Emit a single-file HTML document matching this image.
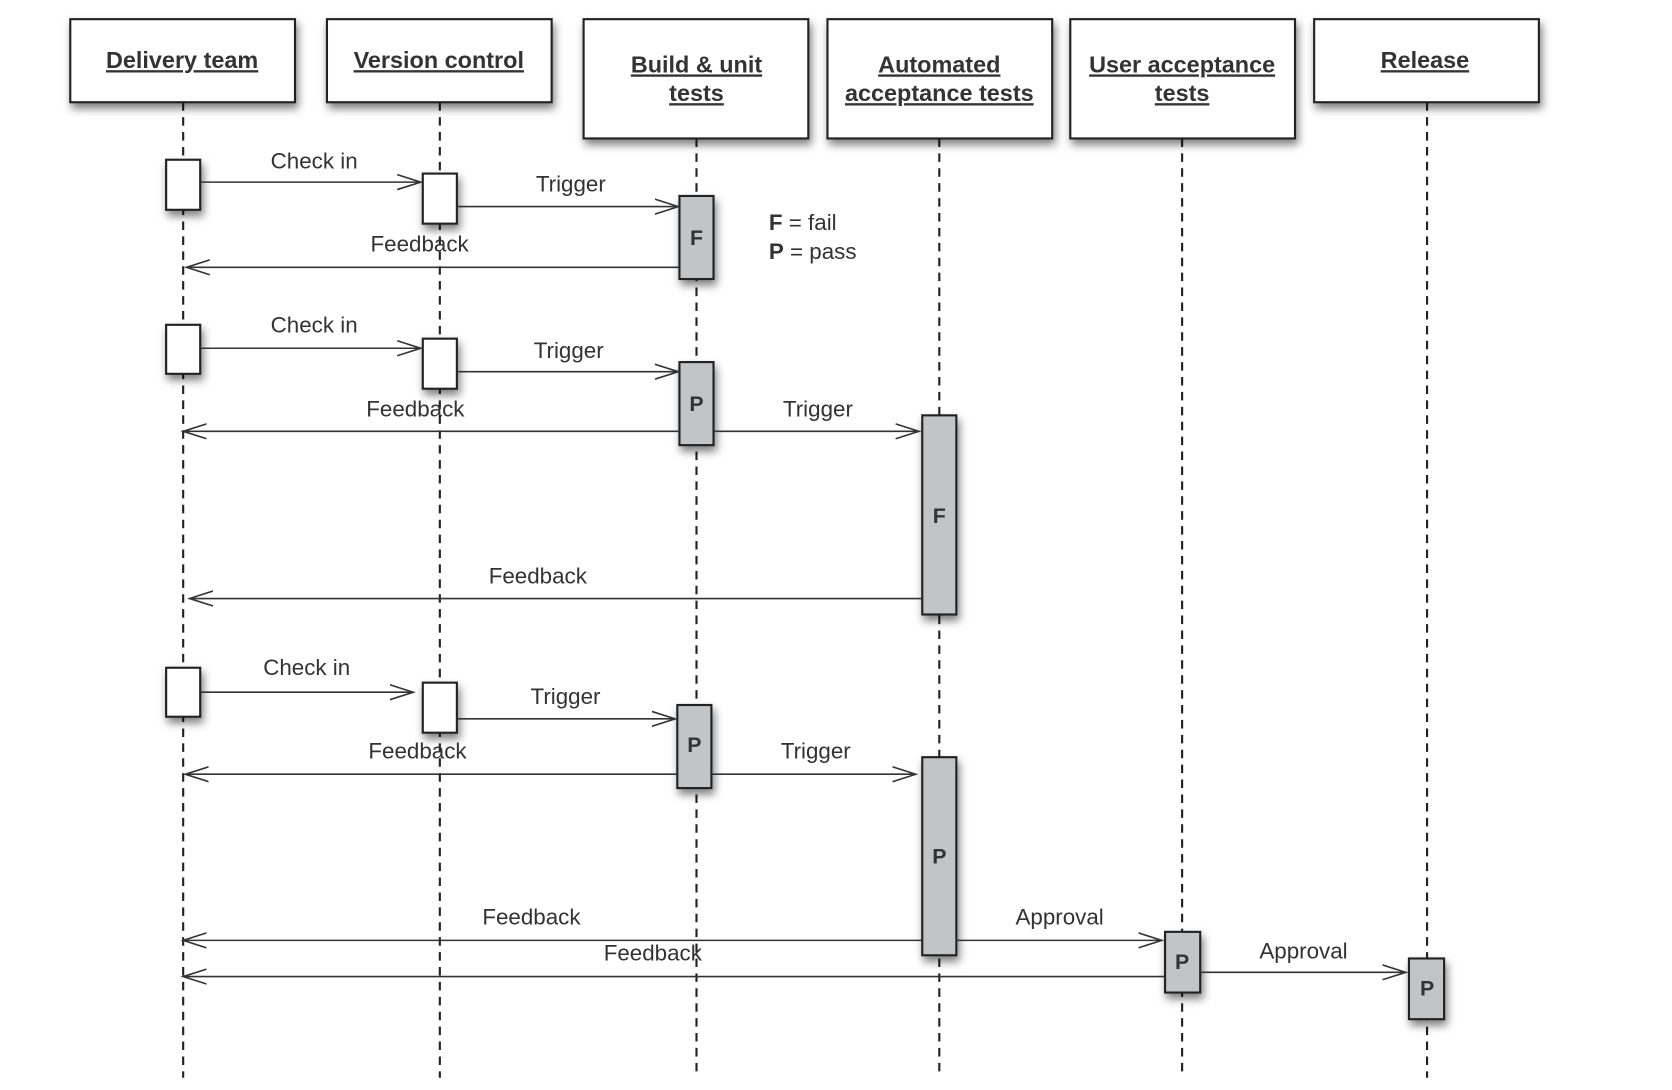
<!DOCTYPE html><html><head><style>body{margin:0;background:#fff}svg{display:block}text{font-family:"Liberation Sans",sans-serif}</style></head><body>
<svg width="1672" height="1090" viewBox="0 0 1570 1023.5">
<defs>
<filter id="sh" x="-30%" y="-30%" width="170%" height="170%"><feDropShadow dx="2" dy="5" stdDeviation="4" flood-color="#000" flood-opacity="0.5"/></filter>
<marker id="ar" markerWidth="24" markerHeight="16" refX="22" refY="8" orient="auto" markerUnits="userSpaceOnUse"><path d="M0,1 L22,8 L0,15" fill="none" stroke="#333" stroke-width="1.5"/></marker>
</defs>
<g stroke="#222" stroke-width="2" stroke-dasharray="8,6">
<line x1="172" y1="96" x2="172" y2="1012"/><line x1="413" y1="96" x2="413" y2="1012"/><line x1="654" y1="130" x2="654" y2="1012"/><line x1="882" y1="130" x2="882" y2="1012"/><line x1="1110" y1="130" x2="1110" y2="1012"/><line x1="1340" y1="96" x2="1340" y2="1012"/>
</g>
<g fill="#fff" stroke="#222" stroke-width="2" filter="url(#sh)">
<rect x="66" y="18" width="211" height="78"/><rect x="307" y="18" width="211" height="78"/><rect x="548" y="18" width="211" height="112"/><rect x="777" y="18" width="211" height="112"/><rect x="1005" y="18" width="211" height="112"/><rect x="1234" y="18" width="211" height="78"/>
<rect x="156" y="150" width="32" height="47"/><rect x="397" y="163" width="32" height="47"/>
<rect x="156" y="305" width="32" height="46"/><rect x="397" y="318" width="32" height="47"/>
<rect x="156" y="627" width="32" height="46"/><rect x="397" y="641" width="32" height="47"/>
</g>
<g fill="#c3c4c6" stroke="#222" stroke-width="2" filter="url(#sh)">
<rect x="638" y="184" width="32" height="78"/><rect x="638" y="340" width="32" height="78"/><rect x="866" y="390" width="32" height="187"/>
<rect x="636" y="662" width="32" height="78"/><rect x="866" y="711" width="32" height="186"/><rect x="1094" y="875" width="33" height="57"/><rect x="1323" y="900" width="33" height="57"/>
</g>
<g font-size="22" font-weight="bold" fill="#333" text-anchor="middle" text-decoration="underline">
<text x="171" y="64">Delivery team</text><text x="412" y="64">Version control</text>
<text x="654" y="68">Build &amp; unit</text><text x="654" y="95">tests</text>
<text x="882" y="68">Automated</text><text x="882" y="95">acceptance tests</text>
<text x="1110" y="68">User acceptance</text><text x="1110" y="95">tests</text>
<text x="1338" y="64">Release</text>
</g>
<g font-size="20" font-weight="bold" fill="#333" text-anchor="middle">
<text x="654" y="230">F</text><text x="654" y="386">P</text><text x="882" y="491">F</text><text x="652" y="706">P</text><text x="882" y="811">P</text><text x="1110" y="910">P</text><text x="1340" y="935">P</text>
</g>
<g stroke="#333" stroke-width="1.5" marker-end="url(#ar)">
<line x1="188" y1="171" x2="395" y2="171"/><line x1="429" y1="194" x2="637" y2="194"/><line x1="637" y1="251" x2="175" y2="251"/>
<line x1="188" y1="327" x2="395" y2="327"/><line x1="429" y1="349" x2="637" y2="349"/><line x1="637" y1="405" x2="172" y2="405"/><line x1="670" y1="405" x2="863" y2="405"/><line x1="866" y1="562" x2="178" y2="562"/>
<line x1="188" y1="650" x2="388" y2="650"/><line x1="429" y1="675" x2="634" y2="675"/><line x1="636" y1="727" x2="174" y2="727"/><line x1="668" y1="727" x2="860" y2="727"/>
<line x1="866" y1="883" x2="172" y2="883"/><line x1="898" y1="883" x2="1091" y2="883"/><line x1="1094" y1="917" x2="172" y2="917"/><line x1="1127" y1="913" x2="1320" y2="913"/>
</g>
<g font-size="21" fill="#333" text-anchor="middle">
<text x="295" y="158">Check in</text><text x="536" y="180">Trigger</text><text x="394" y="236">Feedback</text>
<text x="295" y="312">Check in</text><text x="534" y="336">Trigger</text><text x="390" y="391">Feedback</text><text x="768" y="391">Trigger</text><text x="505" y="548">Feedback</text>
<text x="288" y="634">Check in</text><text x="531" y="661">Trigger</text><text x="392" y="712">Feedback</text><text x="766" y="712">Trigger</text>
<text x="499" y="868">Feedback</text><text x="995" y="868">Approval</text><text x="613" y="902">Feedback</text><text x="1224" y="900">Approval</text>
</g>
<g font-size="21" fill="#333"><text x="722" y="216"><tspan font-weight="bold">F</tspan> = fail</text><text x="722" y="243"><tspan font-weight="bold">P</tspan> = pass</text></g>
</svg></body></html>
